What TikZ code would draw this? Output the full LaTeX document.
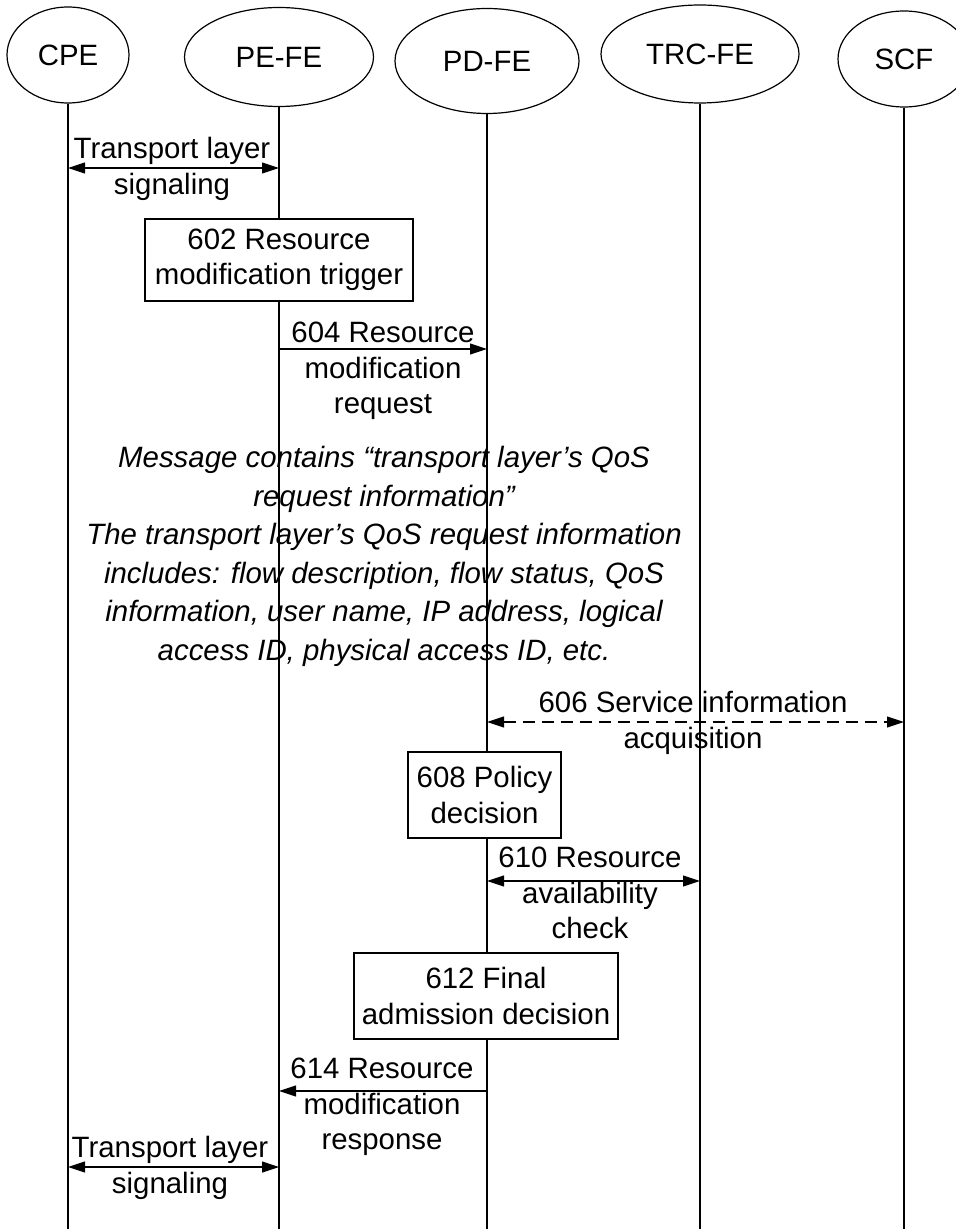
\documentclass[tikz,border=0pt]{standalone}
\usepackage{fontspec}
\setmainfont{Liberation Sans}
\usetikzlibrary{shapes.geometric}
\usetikzlibrary{arrows.meta}

\begin{document}
\begin{tikzpicture}[x=0.5pt,y=-0.5pt,
    every node/.style={font=\fontsize{14.7}{17.75}\selectfont},
    entity/.style={draw,ellipse,inner sep=0pt,line width=0.6pt},
    life/.style={line width=0.55pt},
    msg/.style={line width=0.55pt,-{Triangle[length=8.5pt,width=5.5pt]}},
    dmsg/.style={line width=0.55pt,{Triangle[length=8.5pt,width=5.5pt]}-{Triangle[length=8.5pt,width=5.5pt]}},
    actbox/.style={draw,fill=white,align=center,line width=0.6pt,inner sep=0pt},
    lbl/.style={align=center,inner sep=0pt,anchor=north},
    note/.style={lbl,font=\fontsize{14.7}{19.25}\selectfont\itshape}]
\useasboundingbox (0,0) rectangle (956,1229);
% entities
\node[entity,minimum width=61pt,minimum height=48pt] (cpe) at (68,55) {CPE};
\node[entity,minimum width=94.5pt,minimum height=49.5pt] (pefe) at (279,57) {PE-FE};
\node[entity,minimum width=92pt,minimum height=52.5pt] (pdfe) at (487,61) {PD-FE};
\node[entity,minimum width=99pt,minimum height=49pt] (trcfe) at (700,54) {TRC-FE};
\node[entity,minimum width=66pt,minimum height=48pt] (scf) at (904,59) {SCF};
% lifelines
\coordinate (bottom) at (0,1229);
\foreach \e in {cpe,pefe,pdfe,trcfe,scf}
    \draw[life] (\e.south) -- (\e.south |- bottom);
% message levels
\coordinate (s1) at (0,168);
\coordinate (s604) at (0,349);
\coordinate (s606) at (0,722);
\coordinate (s610) at (0,881);
\coordinate (s614) at (0,1091);
\coordinate (s2) at (0,1167);
% boxes
\node[actbox,minimum width=134pt,minimum height=41pt] (b602) at (279,260)
    {602 Resource\\modification trigger};
\node[actbox,minimum width=76.5pt,minimum height=43pt] (b608) at (484.5,795)
    {608 Policy\\decision};
\node[actbox,minimum width=132pt,minimum height=43pt] (b612) at (486,996)
    {612 Final\\admission decision};
% messages
\draw[dmsg] (cpe |- s1) -- (pefe |- s1);
\node[lbl] (l1) at (172,137) {Transport layer\\signaling};
\draw[msg] (pefe |- s604) -- (pdfe |- s604);
\node[lbl] (l604) at (383,322) {604 Resource\\modification\\request};
\node[note] (n604) at (384,446) {Message contains “transport layer’s QoS\\request information”\\The transport layer’s QoS request information\\includes: flow description, flow status, QoS\\information, user name, IP address, logical\\access ID, physical access ID, etc.};
\draw[dmsg,dash pattern=on 6pt off 3.5pt] (pdfe |- s606) -- (scf |- s606);
\node[lbl] (l606) at (693,691) {606 Service information\\acquisition};
\draw[dmsg] (pdfe |- s610) -- (trcfe |- s610);
\node[lbl] (l610) at (590,847) {610 Resource\\availability\\check};
\draw[msg] (pdfe |- s614) -- (pefe |- s614);
\node[lbl] (l614) at (382,1058) {614 Resource\\modification\\response};
\draw[dmsg] (cpe |- s2) -- (pefe |- s2);
\node[lbl] (l2) at (170,1136) {Transport layer\\signaling};
\end{tikzpicture}
\end{document}
